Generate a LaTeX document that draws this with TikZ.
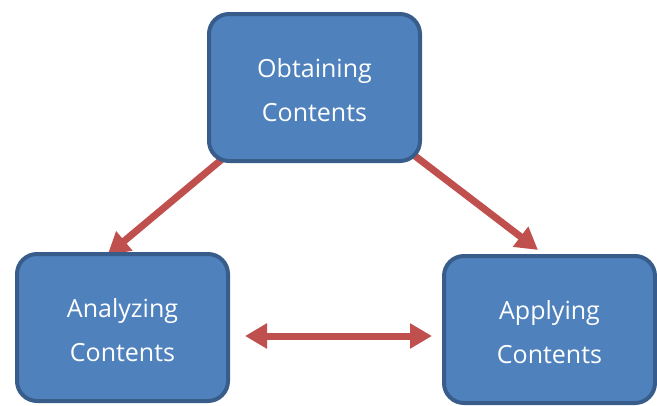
\documentclass[tikz,border=0pt]{standalone}
\usepackage{fontspec}
\setmainfont{Open Sans}
\usetikzlibrary{arrows.meta,calc,backgrounds}
\definecolor{boxfill}{HTML}{4F81BD}
\definecolor{boxline}{HTML}{385D8A}
\definecolor{arrred}{HTML}{C0504D}
\newcommand{\lowerstrut}{\rule{0pt}{25pt}}
\begin{document}
\begin{tikzpicture}[x=1pt,y=-1pt,
  stagebox/.style={rectangle, rounded corners=20pt, draw=boxline, line width=4pt,
    fill=boxfill, text=white, minimum width=211pt, minimum height=147pt,
    align=center, font=\fontsize{25}{44}\selectfont},
  arr/.style={draw=arrred, line width=7pt, -{Triangle[length=22pt,width=24pt]}},
  darr/.style={draw=arrred, line width=7pt, {Triangle[length=22pt,width=24pt]}-{Triangle[length=22pt,width=24pt]}}]
\useasboundingbox (0,0) rectangle (657,405);
\node[stagebox] (top) at (314.5,87.5) {\lowerstrut Obtaining\\Contents};
\node[stagebox] (left) at (122.5,327.5) {\lowerstrut Analyzing\\Contents};
\node[stagebox] (right) at (549.5,329.5) {\lowerstrut Applying\\Contents};
\coordinate (s1) at ($(top.south west)+(20,-8)$);
\coordinate (t1) at ($(left.north)+(-15,3)$);
\coordinate (s2) at ($(top.south east)+(-7,-7)$);
\coordinate (t2) at ($(right.north)+(-11.5,-4)$);
\coordinate (a3) at ($(left.east)+(15,8.5)$);
\coordinate (b3) at ($(right.west)+(-10,6.5)$);
\begin{pgfonlayer}{background}
\draw[arr] (s1) -- (t1);
\draw[arr] (s2) -- (t2);
\end{pgfonlayer}
\draw[darr] (a3) -- (b3);
\end{tikzpicture}
\end{document}
